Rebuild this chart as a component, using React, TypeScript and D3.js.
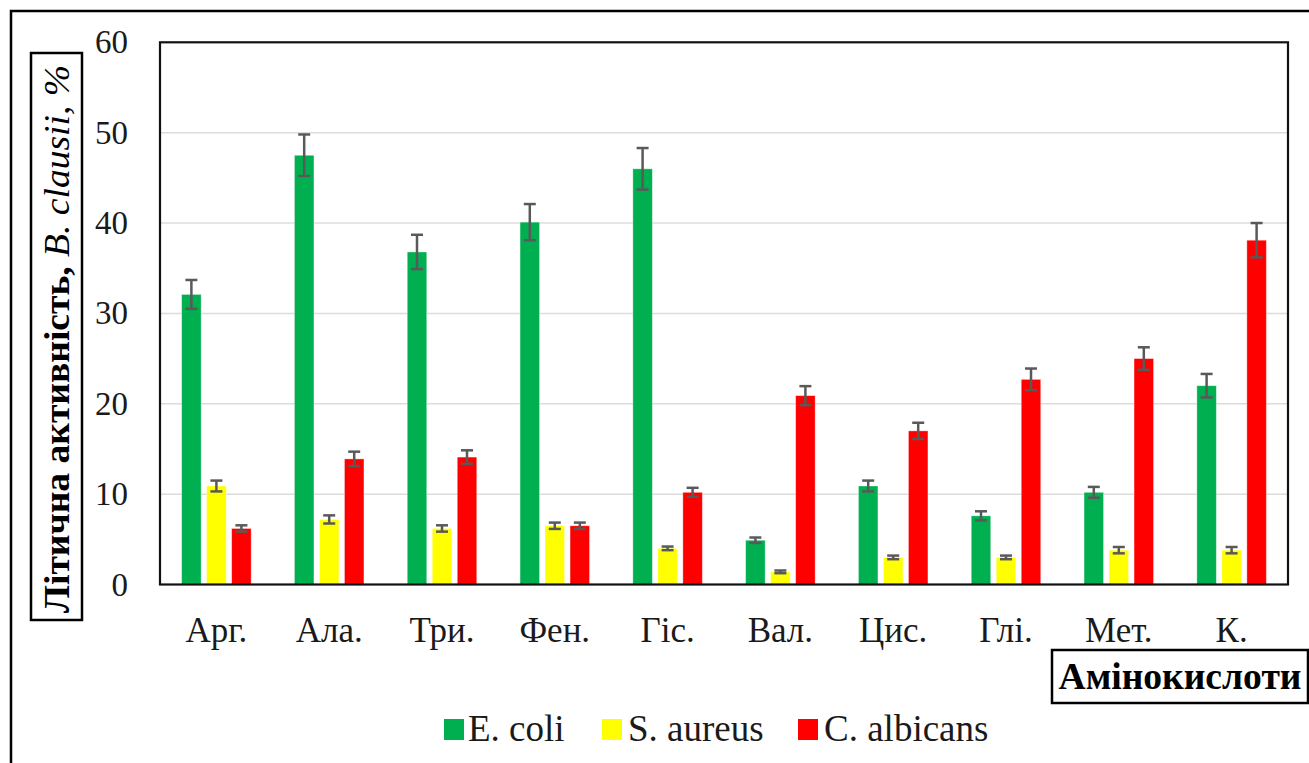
import React from "react";
import * as d3 from "d3";

// Amino acids tested (x categories)
const categories = ["Арг.", "Ала.", "Три.", "Фен.", "Гіс.", "Вал.", "Цис.", "Глі.", "Мет.", "К."];

// Lytic activity, % (mean values)
const eColi = [32.1, 47.5, 36.8, 40.1, 46.0, 4.9, 10.9, 7.6, 10.2, 22.0];
const sAureus = [10.9, 7.2, 6.2, 6.5, 4.0, 1.4, 3.0, 3.0, 3.8, 3.8];
const cAlbicans = [6.2, 13.9, 14.1, 6.5, 10.2, 20.9, 17.0, 22.7, 25.0, 38.1];

// Error bar half-widths
const eColiErr = [1.6, 2.3, 1.9, 2.0, 2.3, 0.3, 0.6, 0.5, 0.6, 1.3];
const sAureusErr = [0.6, 0.45, 0.35, 0.35, 0.2, 0.15, 0.2, 0.2, 0.35, 0.35];
const cAlbicansErr = [0.35, 0.8, 0.75, 0.35, 0.5, 1.05, 0.9, 1.2, 1.25, 1.9];

const seriesNames = ["E. coli", "S. aureus", "C. albicans"];
const seriesColors = ["#00b050", "#ffff00", "#ff0000"];
const yTicks = [0, 10, 20, 30, 40, 50, 60];

const W = 1309;
const H = 763;
const plot = { left: 160, right: 1288, top: 42.3, bottom: 584.5 };
const SERIF = "Liberation Serif";

export default function App() {
  const values = [eColi, sAureus, cAlbicans];
  const errors = [eColiErr, sAureusErr, cAlbicansErr];

  const x0 = d3
    .scaleBand<string>()
    .domain(categories)
    .range([plot.left, plot.right])
    .paddingInner(0.335)
    .paddingOuter(0.1675);
  const x1 = d3
    .scaleBand<string>()
    .domain(seriesNames)
    .range([0, x0.bandwidth()])
    .paddingInner(0.22)
    .paddingOuter(0.11);
  const y = d3.scaleLinear().domain([0, 60]).range([plot.bottom, plot.top]);

  const capHalf = 6;

  // legend layout: square + label per series
  const legendItems = [
    { sq: 444, tx: 468 },
    { sq: 602, tx: 628 },
    { sq: 798, tx: 824 },
  ];

  return (
    <svg
      width={W}
      height={H}
      style={{ position: "absolute", left: 0, top: 0, background: "#fff", fontFamily: SERIF }}
    >
      {/* outer frame */}
      <rect x={11} y={11} width={1400} height={900} fill="none" stroke="#000" strokeWidth={2.5} />

      {/* gridlines */}
      {yTicks
        .filter((t) => t > 0 && t < 60)
        .map((t) => (
          <line
            key={"g" + t}
            x1={plot.left}
            x2={plot.right}
            y1={y(t)}
            y2={y(t)}
            stroke="#dcdcdc"
            strokeWidth={1.5}
          />
        ))}

      {/* bars */}
      {categories.map((c, i) => (
        <g key={c} transform={`translate(${x0(c)},0)`}>
          {seriesNames.map((s, k) => {
            const v = values[k][i];
            const bx = x1(s)!;
            return (
              <rect
                key={s}
                x={bx}
                y={y(v)}
                width={x1.bandwidth()}
                height={y(0) - y(v)}
                fill={seriesColors[k]}
                stroke="rgba(255,255,255,0.45)"
                strokeWidth={0.8}
              />
            );
          })}
        </g>
      ))}

      {/* error bars */}
      {categories.map((c, i) => (
        <g key={"e" + c} transform={`translate(${x0(c)},0)`}>
          {seriesNames.map((s, k) => {
            const v = values[k][i];
            const e = errors[k][i];
            const cx = x1(s)! + x1.bandwidth() / 2;
            return (
              <g key={s} stroke="#595959" strokeWidth={2.5}>
                <line x1={cx} x2={cx} y1={y(v + e)} y2={y(v - e)} />
                <line x1={cx - capHalf} x2={cx + capHalf} y1={y(v + e)} y2={y(v + e)} />
                <line x1={cx - capHalf} x2={cx + capHalf} y1={y(v - e)} y2={y(v - e)} />
              </g>
            );
          })}
        </g>
      ))}

      {/* plot frame */}
      <rect
        x={plot.left}
        y={plot.top}
        width={plot.right - plot.left}
        height={plot.bottom - plot.top}
        fill="none"
        stroke="#111"
        strokeWidth={2.2}
      />

      {/* y tick labels */}
      {yTicks.map((t) => (
        <text key={"t" + t} x={128} y={y(t) + 11} textAnchor="end" fontSize={33} fill="#1a1a1a">
          {t}
        </text>
      ))}

      {/* category labels */}
      {categories.map((c) => (
        <text
          key={"c" + c}
          x={x0(c)! + x0.bandwidth() / 2}
          y={642}
          textAnchor="middle"
          fontSize={35}
          fill="#1a1a1a"
        >
          {c}
        </text>
      ))}

      {/* y axis title */}
      <rect x={31} y={53} width={51} height={567} fill="#fff" stroke="#000" strokeWidth={2.5} />
      <text
        transform="translate(69,339) rotate(-90)"
        textAnchor="middle"
        fontSize={36}
        textLength={548}
        lengthAdjust="spacingAndGlyphs"
        fill="#000"
      >
        <tspan fontWeight="bold">Літична активність, </tspan>
        <tspan fontStyle="italic">B. clausii</tspan>
        <tspan fontStyle="italic">, %</tspan>
      </text>

      {/* x axis title */}
      <rect x={1052} y={650} width={256} height={53} fill="#fff" stroke="#000" strokeWidth={2.5} />
      <text
        x={1180}
        y={689}
        textAnchor="middle"
        fontSize={37}
        fontWeight="bold"
        textLength={243}
        lengthAdjust="spacingAndGlyphs"
        fill="#000"
      >
        Амінокислоти
      </text>

      {/* legend */}
      {seriesNames.map((s, k) => (
        <g key={"l" + s}>
          <rect x={legendItems[k].sq} y={719} width={20} height={21} fill={seriesColors[k]} />
          <text x={legendItems[k].tx} y={741} fontSize={37} fill="#1a1a1a">
            {s}
          </text>
        </g>
      ))}
    </svg>
  );
}
